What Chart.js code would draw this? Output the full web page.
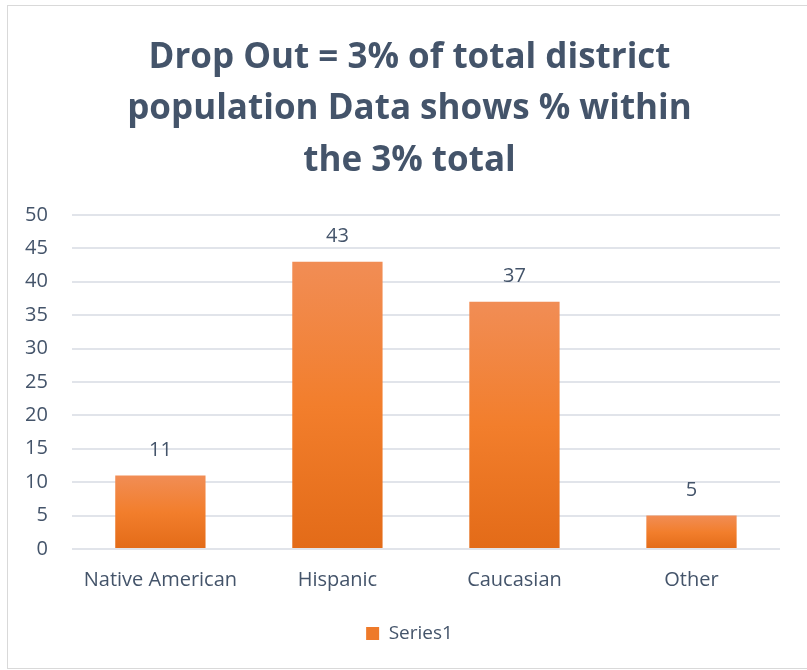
<!DOCTYPE html>
<html>
<head>
<meta charset="utf-8">
<script src="https://cdn.jsdelivr.net/npm/chart.js@4"></script>
<style>
  html, body { margin: 0; padding: 0; background: #fff; }
  #frame { position: absolute; left: 7px; top: 5px; width: 820px; height: 662px; border: 1px solid #d9d9d9; }
  #wrap { position: absolute; left: 0; top: 0; width: 807px; height: 670px; }
</style>
</head>
<body>
<div id="frame"></div>
<div id="wrap"><canvas id="chart"></canvas></div>
<script>
const categories = ['Native American', 'Hispanic', 'Caucasian', 'Other'];
const series1 = [11, 43, 37, 5];
const yTicks = [0, 5, 10, 15, 20, 25, 30, 35, 40, 45, 50];

const textColor = '#44546A';

// bar gradient, light at top, darker at the bottom
function barGradient(context) {
    const chart = context.chart;
    const yScale = chart.scales.y;
    if (!yScale || context.dataIndex === undefined) return '#ED7D31';
    const top = yScale.getPixelForValue(series1[context.dataIndex]);
    const bottom = yScale.getPixelForValue(0);
    const g = chart.ctx.createLinearGradient(0, top, 0, bottom);
    g.addColorStop(0, '#F18D55');
    g.addColorStop(0.5, '#F27E2C');
    g.addColorStop(1, '#E36B18');
    return g;
}

// value labels above the bars
const valueLabels = {
    id: 'valueLabels',
    afterDatasetsDraw(chart) {
        const ctx = chart.ctx;
        const meta = chart.getDatasetMeta(0);
        ctx.save();
        ctx.font = '20px "Open Sans"';
        ctx.fillStyle = textColor;
        ctx.textAlign = 'center';
        ctx.textBaseline = 'middle';
        meta.data.forEach((bar, i) => {
            ctx.fillText(String(series1[i]), bar.x, bar.y - 25);
        });
        ctx.restore();
    }
};

// title and legend sit a bit right of the full-width centre in the original
const shiftBlocks = {
    id: 'shiftBlocks',
    afterLayout(chart) {
        [chart.titleBlock, chart.legend].forEach(box => {
            if (box) { box.left += 19; box.right += 19; }
        });
    }
};

const ctx = document.getElementById('chart').getContext('2d');
const myChart = new Chart(ctx, {
    type: 'bar',
    data: {
        labels: categories,
        datasets: [{
            label: 'Series1',
            data: series1,
            backgroundColor: barGradient,
            borderWidth: 0,
            categoryPercentage: 1,
            barPercentage: 0.51
        }]
    },
    options: {
        responsive: true,
        maintainAspectRatio: false,
        animation: false,
        layout: { padding: { left: 1, right: 27, top: 0, bottom: 17 } },
        plugins: {
            title: {
                display: true,
                text: ['Drop Out = 3% of total district', 'population Data shows % within', 'the 3% total'],
                color: textColor,
                font: { family: 'Open Sans', size: 35, weight: 'bold', lineHeight: 1.47 },
                padding: { top: 32, bottom: 28.5 }
            },
            legend: {
                position: 'bottom',
                labels: {
                    color: textColor,
                    font: { family: 'Open Sans', size: 19 },
                    boxWidth: 13,
                    boxHeight: 13,
                    padding: 21,
                    generateLabels: chart => [{
                        text: 'Series1',
                        fillStyle: '#EE7A2A',
                        strokeStyle: '#EE7A2A',
                        lineWidth: 0,
                        fontColor: textColor
                    }]
                }
            },
            tooltip: { enabled: false }
        },
        scales: {
            x: {
                grid: { display: false },
                border: { display: false },
                ticks: { color: textColor, font: { family: 'Open Sans', size: 20 }, padding: 11 }
            },
            y: {
                min: 0,
                max: 50,
                afterBuildTicks: axis => { axis.ticks = yTicks.map(v => ({ value: v })); },
                grid: { color: '#E1E4EA', lineWidth: 2, drawTicks: false },
                border: { display: false },
                ticks: { color: textColor, font: { family: 'Open Sans', size: 20 }, padding: 24 }
            }
        }
    },
    plugins: [valueLabels, shiftBlocks]
});
</script>
</body>
</html>
